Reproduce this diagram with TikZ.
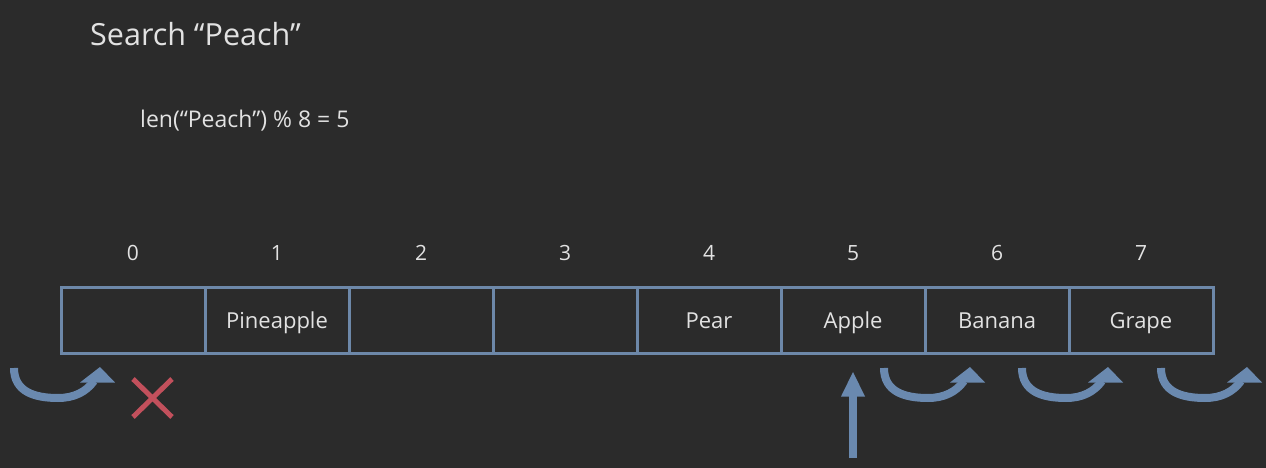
\documentclass[tikz,border=0pt]{standalone}
\usepackage{fontspec}
\setmainfont{Open Sans}
\definecolor{bg}{HTML}{2B2B2B}
\definecolor{fg}{HTML}{E2E2E2}
\definecolor{cellline}{HTML}{6D88A9}
\definecolor{arrowc}{HTML}{6A89AF}
\definecolor{crossc}{HTML}{C2505C}
\begin{document}
\begin{tikzpicture}[x=1pt,y=-1pt,
  cell/.style={draw=cellline, line width=3pt, minimum width=144pt, minimum height=66pt, inner sep=0pt, text height=16pt, text depth=0pt, text=fg, font=\fontsize{22}{26}\selectfont},
  idx/.style={text=fg, font=\fontsize{21}{24}\selectfont, inner sep=0pt},
  curvearrow/.style={draw=arrowc, line width=8pt},
  headtri/.style={fill=arrowc}]
\fill[bg] (0,0) rectangle (1266,468);
\useasboundingbox (0,0) rectangle (1266,468);
\node[anchor=base west, text=fg, font=\fontsize{30.5}{34}\selectfont, inner sep=0pt] (title) at (90,46) {Search “Peach”};
\node[anchor=base west, text=fg, font=\fontsize{23}{26}\selectfont, inner sep=0pt] (calc) at (140,128) {len(“Peach”) \% 8 = 5};
\foreach \i/\t in {0/,1/Pineapple,2/,3/,4/Pear,5/Apple,6/Banana,7/Grape}{
  \node[cell] (c\i) at ({133+144*\i},320) {\t};
  \node[idx] (i\i) at ({133+144*\i},253) {\i};
}
\foreach \x in {10,880,1018,1157}{
  \draw[curvearrow] (\x+4,368) .. controls (\x+4,392) and (\x+25,398) .. (\x+48,398) .. controls (\x+64,398) and (\x+76,392) .. (\x+84,381);
  \fill[headtri] (\x+70,382.5) -- (\x+90,367) -- (\x+105,382.5) -- cycle;
}
\coordinate (ub) at (853,458);
\coordinate (ut) at (853,396);
\draw[draw=arrowc, line width=8pt] (ub) -- (ut);
\fill[headtri] (841,396.5) -- (853,372) -- (865,396.5) -- cycle;
\draw[crossc, line width=5pt] (133,379) -- (172,417) (133,417) -- (172,379);
\end{tikzpicture}
\end{document}
